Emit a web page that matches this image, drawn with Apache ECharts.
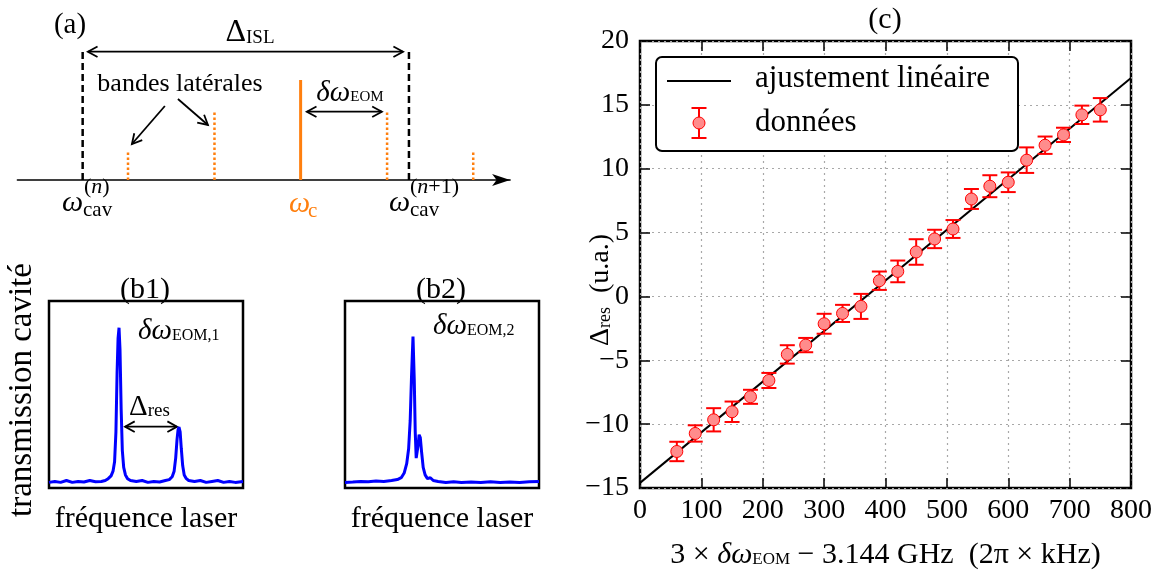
<!DOCTYPE html>
<html><head><meta charset="utf-8">
<script src="https://cdn.jsdelivr.net/npm/echarts@6/dist/echarts.min.js"></script>
<style>html,body{margin:0;padding:0;background:#fff}#c{width:1163px;height:573px}</style>
</head><body><div id="c"></div>
<script>
// ---------- panel (c) data ----------
const dataX = [60,90,120,150,180,210,240,270,300,330,360,390,420,450,480,510,540,570,600,630,660,690,720,750];
const dataY = [-12.14,-10.73,-9.66,-9.03,-7.86,-6.58,-4.54,-3.81,-2.14,-1.33,-0.78,1.23,1.96,3.48,4.50,5.28,7.63,8.63,8.94,10.67,11.84,12.65,14.22,14.61];
const dataErr = [0.76,0.64,0.91,0.80,0.55,0.59,0.72,0.56,0.78,0.67,0.98,0.72,0.85,1.00,0.72,0.70,0.78,0.86,0.77,1.00,0.68,0.56,0.72,0.92];
const fitX = [0, 800];
const fitY = [-14.6, 17.1];
const xTickMin = 0, xTickMax = 800, xTickStep = 100;
const yTickMin = -15, yTickMax = 20, yTickStep = 5;

// ---------- panel (b1) spectrum ----------
const b1X = [0,3,6,9,12,15,18,21,24,27,29,30.5,32,33,33.8,34.5,35.1,35.6,36.1,36.6,37.2,37.8,38.5,39.4,40.5,42,45,48,51,54,57,60,62,63.5,64.5,65.3,66,66.5,67,67.6,68.2,68.9,69.7,70.8,72,75,78,81,84,87,90,93,96,100];
const b1Y = [0.03,0.035,0.03,0.04,0.03,0.035,0.032,0.04,0.033,0.035,0.04,0.05,0.065,0.09,0.14,0.3,0.62,0.8,0.857,0.74,0.42,0.2,0.11,0.07,0.05,0.04,0.035,0.04,0.03,0.035,0.032,0.04,0.045,0.06,0.09,0.16,0.26,0.31,0.326,0.3,0.21,0.12,0.07,0.05,0.04,0.035,0.04,0.03,0.035,0.04,0.03,0.035,0.03,0.035];
// ---------- panel (b2) spectrum ----------
const b2X = [0,4,8,12,16,20,24,27,29,30.5,31.8,32.8,33.6,34.3,35.05,35.7,36.2,36.7,37.2,37.7,38.2,38.8,39.5,40.3,41.3,42.5,44,45.5,48,52,56,60,65,70,75,80,85,90,95,100];
const b2Y = [0.03,0.032,0.035,0.033,0.037,0.035,0.04,0.045,0.055,0.08,0.13,0.21,0.36,0.6,0.81,0.58,0.3,0.16,0.15,0.23,0.285,0.27,0.19,0.11,0.07,0.05,0.055,0.04,0.035,0.03,0.033,0.03,0.032,0.03,0.033,0.03,0.032,0.03,0.033,0.035];

// ---------- panel (a) schematic ----------
const cavityPos = [0, 1];
const cavityHeight = [1.28, 1.28];
const carrierPos = [0.668];
const carrierHeight = [1.0];
const sidebandPos = [0.139, 0.404, 0.933, 1.197];
const sidebandHeight = [0.30, 0.70, 0.70, 0.30];
// arrows: x1,y1,x2,y2,doubleHeaded
const islArrow = [0.016, 1.283, 0.982, 1.283, 1];
const eomArrow = [0.687, 0.683, 0.917, 0.683, 1];
const bandArrows = [[0.252, 0.74, 0.151, 0.36, 0], [0.292, 0.81, 0.384, 0.55, 0]];
const resArrow = [39.2, 0.328, 66, 0.328, 1];

const F = "'Liberation Serif','DejaVu Serif',serif";
const ORANGE = '#ff7f0e';

const zip = (a, b) => a.map((v, i) => [v, b[i]]);

function vline(style) {
  return function (params, api) {
    const p0 = api.coord([api.value(0), 0]);
    const p1 = api.coord([api.value(0), api.value(1)]);
    return { type: 'line', shape: { x1: p0[0], y1: p0[1], x2: p1[0], y2: p1[1] }, style: Object.assign({}, style) };
  };
}
function arrowRender(params, api) {
  const a = api.coord([api.value(0), api.value(1)]);
  const b = api.coord([api.value(2), api.value(3)]);
  const both = api.value(4);
  const st = { stroke: '#000', lineWidth: 1.8, fill: null };
  const head = (tip, from) => {
    const ang = Math.atan2(from[1] - tip[1], from[0] - tip[0]);
    const L = 11, w = 0.5;
    return { type: 'polyline', shape: { points: [[tip[0] + L * Math.cos(ang + w), tip[1] + L * Math.sin(ang + w)], tip, [tip[0] + L * Math.cos(ang - w), tip[1] + L * Math.sin(ang - w)]] }, style: st };
  };
  const ch = [{ type: 'line', shape: { x1: a[0], y1: a[1], x2: b[0], y2: b[1] }, style: st }, head(b, a)];
  if (both) ch.push(head(a, b));
  return { type: 'group', children: ch };
}
function errRender(params, api) {
  const x = api.value(0), y = api.value(1), e = api.value(2);
  const t = api.coord([x, y + e]), b = api.coord([x, y - e]);
  const c = 7.5, st = { stroke: '#ff0000', lineWidth: 2 };
  return { type: 'group', children: [
    { type: 'line', shape: { x1: t[0], y1: t[1], x2: b[0], y2: b[1] }, style: st },
    { type: 'line', shape: { x1: t[0] - c, y1: t[1], x2: t[0] + c, y2: t[1] }, style: st },
    { type: 'line', shape: { x1: b[0] - c, y1: b[1], x2: b[0] + c, y2: b[1] }, style: st }
  ] };
}

const hiddenAxis = (gi, min, max, extra) => Object.assign({ type: 'value', gridIndex: gi, min, max, axisLine: { show: false, onZero: false }, axisTick: { show: false }, axisLabel: { show: false }, splitLine: { show: false } }, extra || {});
const tickStyle = { show: true, inside: true, length: 10, lineStyle: { color: '#000', width: 1.5 } };
const noLine = { show: false, onZero: false };
const minus = v => String(v).replace('-', '\u2212');
const gridLine = { show: true, lineStyle: { color: '#a8a8a8', type: [2, 4], width: 1.2 } };

const sub = (size, pad) => ({ fontFamily: F, fontSize: size, padding: [pad || 9, 0, 0, 0], color: '#000' });
const serif = (size) => ({ fontFamily: F, fontSize: size, color: '#000' });

const option = {
  animation: false,
  backgroundColor: '#fff',
  grid: [
    { left: 17.4, top: 30, width: 492.7, height: 150, outerBoundsMode: 'none', containLabel: false },
    { left: 49, top: 301, width: 194, height: 187, show: true, borderColor: '#000', borderWidth: 2.5, outerBoundsMode: 'none', containLabel: false },
    { left: 345, top: 301, width: 194, height: 187, show: true, borderColor: '#000', borderWidth: 2.5, outerBoundsMode: 'none', containLabel: false },
    { left: 640, top: 41, width: 491, height: 447, show: true, borderColor: '#000', borderWidth: 2.5, outerBoundsMode: 'none', containLabel: false }
  ],
  xAxis: [
    hiddenAxis(0, -0.2, 1.31, { axisLine: { show: true, onZero: false, symbol: ['none', 'arrow'], symbolSize: [9, 18], lineStyle: { color: '#000', width: 1.5 } } }),
    hiddenAxis(1, 0, 100, { name: 'fréquence laser', nameLocation: 'middle', nameGap: 16, nameTextStyle: serif(30) }),
    hiddenAxis(2, 0, 100, { name: 'fréquence laser', nameLocation: 'middle', nameGap: 16, nameTextStyle: serif(30) }),
    { type: 'value', gridIndex: 3, position: 'bottom', min: xTickMin, max: xTickMax, interval: xTickStep,
      axisLine: noLine, axisTick: tickStyle,
      axisLabel: { fontFamily: F, fontSize: 28, color: '#000', margin: 9 },
      splitLine: gridLine,
      name: '{t|3 × }{i|δω}{s|EOM}{t| − 3.144 GHz  (2π × kHz)}', nameLocation: 'middle', nameGap: 52,
      nameTextStyle: { rich: { t: serif(30), i: { fontFamily: F, fontSize: 30, fontStyle: 'italic', color: '#000' }, s: sub(17) } } },
    { type: 'value', gridIndex: 3, position: 'top', min: xTickMin, max: xTickMax, interval: xTickStep,
      axisLine: noLine, axisTick: tickStyle, axisLabel: { show: false }, splitLine: { show: false } }
  ],
  yAxis: [
    hiddenAxis(0, 0, 1.5),
    hiddenAxis(1, 0, 1),
    hiddenAxis(2, 0, 1),
    { type: 'value', gridIndex: 3, position: 'left', min: yTickMin, max: yTickMax, interval: yTickStep,
      axisLine: noLine, axisTick: tickStyle,
      axisLabel: { fontFamily: F, fontSize: 28, color: '#000', margin: 11, formatter: minus },
      splitLine: gridLine },
    { type: 'value', gridIndex: 3, position: 'right', min: yTickMin, max: yTickMax, interval: yTickStep,
      axisLine: noLine, axisTick: tickStyle, axisLabel: { show: false }, splitLine: { show: false } }
  ],
  series: [
    // panel (a)
    { type: 'custom', xAxisIndex: 0, yAxisIndex: 0, data: zip(cavityPos, cavityHeight), renderItem: vline({ stroke: '#000', lineWidth: 2.5, lineDash: [7, 4] }) },
    { type: 'custom', xAxisIndex: 0, yAxisIndex: 0, data: zip(sidebandPos, sidebandHeight), renderItem: vline({ stroke: ORANGE, lineWidth: 2.5, lineDash: [2.5, 2.5] }) },
    { type: 'custom', xAxisIndex: 0, yAxisIndex: 0, data: zip(carrierPos, carrierHeight), renderItem: vline({ stroke: ORANGE, lineWidth: 3 }) },
    { type: 'custom', xAxisIndex: 0, yAxisIndex: 0, data: [islArrow, eomArrow].concat(bandArrows), renderItem: arrowRender },
    // panel (b1), (b2)
    { type: 'line', xAxisIndex: 1, yAxisIndex: 1, data: zip(b1X, b1Y), showSymbol: false, lineStyle: { color: '#0000ff', width: 3 } },
    { type: 'custom', xAxisIndex: 1, yAxisIndex: 1, data: [resArrow], renderItem: arrowRender },
    { type: 'line', xAxisIndex: 2, yAxisIndex: 2, data: zip(b2X, b2Y), showSymbol: false, lineStyle: { color: '#0000ff', width: 3 } },
    // panel (c)
    { name: 'ajustement linéaire', type: 'line', xAxisIndex: 3, yAxisIndex: 3, data: zip(fitX, fitY), showSymbol: false, lineStyle: { color: '#000', width: 2 }, z: 3 },
    { name: 'données', type: 'custom', xAxisIndex: 3, yAxisIndex: 3, data: dataX.map((x, i) => [x, dataY[i], dataErr[i]]), renderItem: errRender, z: 4 },
    { name: 'données', type: 'scatter', xAxisIndex: 3, yAxisIndex: 3, data: zip(dataX, dataY), symbolSize: 12, itemStyle: { color: '#ff8c8c', borderColor: '#ff0000', borderWidth: 1, opacity: 1 }, z: 5 }
  ],
  graphic: [
    // panel (a) labels
    { type: 'text', x: 70, y: 25, style: { text: '(a)', font: `29px ${F}`, fill: '#000', align: 'center', verticalAlign: 'middle' } },
    { type: 'text', x: 250, y: 33, style: { text: '{t|Δ}{s|ISL}', rich: { t: serif(32), s: sub(19, 10) }, align: 'center', verticalAlign: 'middle' } },
    { type: 'text', x: 180, y: 84, style: { text: 'bandes latérales', font: `26px ${F}`, fill: '#000', align: 'center', verticalAlign: 'middle' } },
    { type: 'text', x: 350, y: 93, style: { text: '{i|δω}{s|EOM}', rich: { i: { fontFamily: F, fontSize: 29, fontStyle: 'italic', color: '#000' }, s: sub(15) }, align: 'center', verticalAlign: 'middle' } },
    { type: 'text', x: 62, y: 203, style: { text: 'ω', font: `italic 30px ${F}`, fill: '#000', align: 'left', verticalAlign: 'middle' } },
    { type: 'text', x: 83, y: 210, style: { text: 'cav', font: `21px ${F}`, fill: '#000', align: 'left', verticalAlign: 'middle' } },
    { type: 'text', x: 84, y: 187, style: { text: '{p|(}{n|n}{p|)}', rich: { p: serif(22), n: { fontFamily: F, fontSize: 22, fontStyle: 'italic', color: '#000' } }, align: 'left', verticalAlign: 'middle' } },
    { type: 'text', x: 289, y: 204, style: { text: 'ω', font: `italic 30px ${F}`, fill: ORANGE, align: 'left', verticalAlign: 'middle' } },
    { type: 'text', x: 308, y: 211, style: { text: 'c', font: `21px ${F}`, fill: ORANGE, align: 'left', verticalAlign: 'middle' } },
    { type: 'text', x: 389, y: 203, style: { text: 'ω', font: `italic 30px ${F}`, fill: '#000', align: 'left', verticalAlign: 'middle' } },
    { type: 'text', x: 410, y: 210, style: { text: 'cav', font: `21px ${F}`, fill: '#000', align: 'left', verticalAlign: 'middle' } },
    { type: 'text', x: 410, y: 187, style: { text: '{p|(}{n|n}{p|+1)}', rich: { p: serif(22), n: { fontFamily: F, fontSize: 22, fontStyle: 'italic', color: '#000' } }, align: 'left', verticalAlign: 'middle' } },
    // panel (b) labels
    { type: 'text', x: 145, y: 290, style: { text: '(b1)', font: `30px ${F}`, fill: '#000', align: 'center', verticalAlign: 'middle' } },
    { type: 'text', x: 441, y: 290, style: { text: '(b2)', font: `30px ${F}`, fill: '#000', align: 'center', verticalAlign: 'middle' } },
    { type: 'text', x: 138, y: 331, style: { text: '{i|δω}{s|EOM,1}', rich: { i: { fontFamily: F, fontSize: 29, fontStyle: 'italic', color: '#000' }, s: sub(16) }, align: 'left', verticalAlign: 'middle' } },
    { type: 'text', x: 433, y: 326, style: { text: '{i|δω}{s|EOM,2}', rich: { i: { fontFamily: F, fontSize: 29, fontStyle: 'italic', color: '#000' }, s: sub(16) }, align: 'left', verticalAlign: 'middle' } },
    { type: 'text', x: 129, y: 407, style: { text: '{t|Δ}{s|res}', rich: { t: serif(29), s: sub(19) }, align: 'left', verticalAlign: 'middle' } },
    { type: 'text', x: 22, y: 390, rotation: Math.PI / 2, style: { text: 'transmission cavité', font: `33px ${F}`, fill: '#000', align: 'center', verticalAlign: 'middle' } },
    // panel (c) title, y label and legend
    { type: 'text', x: 885, y: 20, style: { text: '(c)', font: `30px ${F}`, fill: '#000', align: 'center', verticalAlign: 'middle' } },
    { type: 'text', x: 601, y: 290, rotation: Math.PI / 2, style: { text: '{t|Δ}{s|res}{t|  (u.a.)}', rich: { t: serif(28), s: sub(18) }, align: 'center', verticalAlign: 'middle' } },
    { type: 'rect', shape: { x: 656, y: 57, width: 362, height: 94, r: 6 }, style: { fill: '#fff', stroke: '#000', lineWidth: 2 }, z: 100 },
    { type: 'line', shape: { x1: 667, y1: 81, x2: 731, y2: 81 }, style: { stroke: '#000', lineWidth: 2 }, z: 101 },
    { type: 'line', shape: { x1: 699, y1: 108, x2: 699, y2: 138 }, style: { stroke: '#ff0000', lineWidth: 2 }, z: 101 },
    { type: 'line', shape: { x1: 691.5, y1: 108, x2: 706.5, y2: 108 }, style: { stroke: '#ff0000', lineWidth: 2 }, z: 101 },
    { type: 'line', shape: { x1: 691.5, y1: 138, x2: 706.5, y2: 138 }, style: { stroke: '#ff0000', lineWidth: 2 }, z: 101 },
    { type: 'circle', shape: { cx: 699, cy: 123, r: 6 }, style: { fill: '#ff8c8c', stroke: '#ff0000', lineWidth: 1 }, z: 102 },
    { type: 'text', x: 755, y: 79, z: 101, style: { text: 'ajustement linéaire', font: `31px ${F}`, fill: '#000', align: 'left', verticalAlign: 'middle' } },
    { type: 'text', x: 755, y: 123, z: 101, style: { text: 'données', font: `31px ${F}`, fill: '#000', align: 'left', verticalAlign: 'middle' } }
  ]
};
const chart = echarts.init(document.getElementById('c'), null, { renderer: 'canvas' });
chart.setOption(option);
</script></body></html>
